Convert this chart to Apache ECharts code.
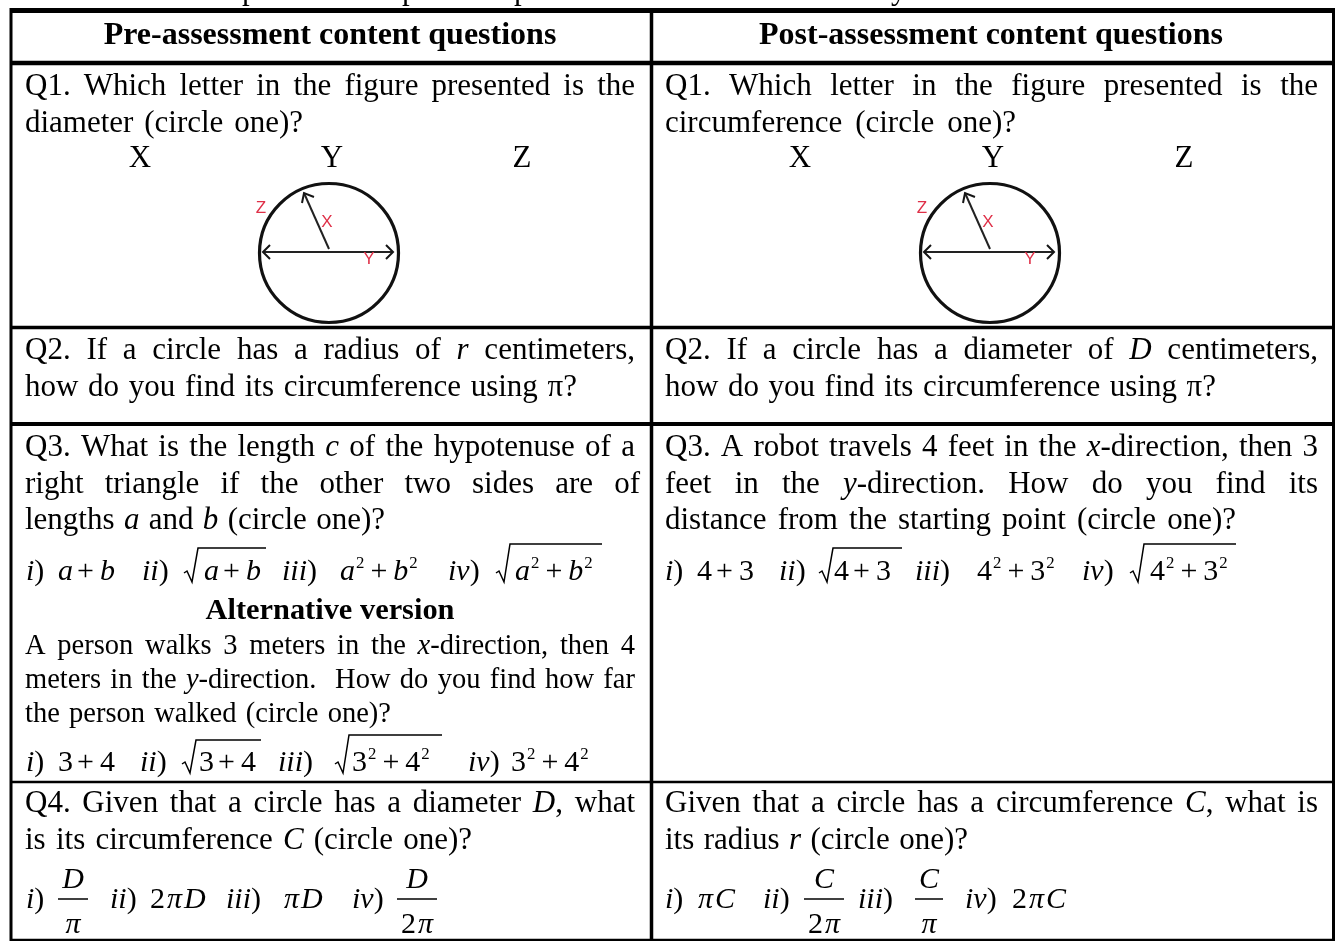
<!DOCTYPE html>
<html lang="en">
<head>
<meta charset="UTF-8">
<title>Pre- and post-assessment content questions</title>
<script src="https://cdn.jsdelivr.net/npm/echarts@6/dist/echarts.min.js"></script>
<style>
html, body { margin: 0; padding: 0; background: #fff; overflow: hidden; }
#main { width: 1335px; height: 941px; }
</style>
</head>
<body>
<div id="main"></div>
<script type="text/javascript">
// table text, *...* marks italic runs
var headers = ['Pre-assessment content questions', 'Post-assessment content questions'];
var choiceLetters = ['X', 'Y', 'Z'];
var figureLetters = ['Z', 'X', 'Y'];
var cutOffGlyphs = ['p', 'p', 'p', 'y'];

var preQ1 = ['Q1. Which letter in the figure presented is the', 'diameter (circle one)?'];
var preQ2 = ['Q2. If a circle has a radius of *r* centimeters,', 'how do you find its circumference using π?'];
var preQ3 = ['Q3. What is the length *c* of the hypotenuse of a', 'right triangle if the other two sides are of', 'lengths *a* and *b* (circle one)?'];
var altTitle = 'Alternative version';
var preAlt = ['A person walks 3 meters in the *x*-direction, then 4', 'meters in the *y*-direction.  How do you find how far', 'the person walked (circle one)?'];
var preQ4 = ['Q4. Given that a circle has a diameter *D*, what', 'is its circumference *C* (circle one)?'];

var postQ1 = ['Q1. Which letter in the figure presented is the', 'circumference (circle one)?'];
var postQ2 = ['Q2. If a circle has a diameter of *D* centimeters,', 'how do you find its circumference using π?'];
var postQ3 = ['Q3. A robot travels 4 feet in the *x*-direction, then 3', 'feet in the *y*-direction. How do you find its', 'distance from the starting point (circle one)?'];
var postQ4 = ['Given that a circle has a circumference *C*, what is', 'its radius *r* (circle one)?'];

var optionMarks = ['*i*)', '*ii*)', '*iii*)', '*iv*)'];
var preQ3Terms = ['a+b', 'a+b', 'a^2+b^2', 'a^2+b^2'];
var postQ3Terms = ['4+3', '4+3', '4^2+3^2', '4^2+3^2'];
var altTerms = ['3+4', '3+4', '3^2+4^2', '3^2+4^2'];
var preQ4Terms = [['D', 'π'], '2πD', 'πD', ['D', '2π']];
var postQ4Terms = ['πC', ['C', '2π'], ['C', 'π'], '2πC'];

var FONT = '"Liberation Serif", "Times New Roman", serif';
var BODY = 31, HEAD = 32, ALT = 28.5, MATH = 30;
var measure = document.createElement('canvas').getContext('2d');
var elements = [];

function fontOf(size, italic, bold) {
    return (italic ? 'italic ' : '') + (bold ? 'bold ' : '') + size + 'px ' + FONT;
}
function widthOf(text, font) {
    measure.font = font;
    return measure.measureText(text).width;
}
function putText(text, x, base, font, size, color) {
    elements.push({
        type: 'text', silent: true,
        style: {
            text: text, x: x, y: base - size * 0.24, font: font, fill: color || '#000',
            align: 'left', textAlign: 'left', verticalAlign: 'middle', textVerticalAlign: 'middle'
        }
    });
}
function rule(x1, y1, x2, y2, w) {
    elements.push({
        type: 'line', silent: true,
        shape: { x1: x1, y1: y1, x2: x2, y2: y2 },
        style: { stroke: '#000', lineWidth: w }
    });
}
function runsOf(word) {
    return word.split('*').map(function (t, i) { return { t: t, it: i % 2 === 1 }; })
        .filter(function (r) { return r.t.length > 0; });
}
// one line of text stretched between left and right through its word gaps
function textLine(str, left, right, base, size) {
    var words = str.split(' ');
    var total = 0;
    var sized = words.map(function (w) {
        var runs = runsOf(w);
        var wd = 0;
        runs.forEach(function (r) { r.w = widthOf(r.t, fontOf(size, r.it)); wd += r.w; });
        total += wd;
        return { runs: runs, w: wd };
    });
    var gap = (right - left - total) / (words.length - 1);
    var x = left;
    sized.forEach(function (w) {
        w.runs.forEach(function (r) {
            putText(r.t, x, base, fontOf(size, r.it), size);
            x += r.w;
        });
        x += gap;
    });
}
function para(lines, left, rights, bases, size) {
    lines.forEach(function (l, i) { textLine(l, left, rights[i], bases[i], size || BODY); });
}
function centered(text, cx, base, size, bold) {
    var f = fontOf(size, false, bold);
    putText(text, cx - widthOf(text, f) / 2, base, f, size);
}
function mark(str, x, base) {
    runsOf(str).forEach(function (r) {
        var f = fontOf(MATH, r.it);
        putText(r.t, x, base, f, MATH);
        x += widthOf(r.t, f);
    });
}
// simple math setter: letters and pi italic, ^ raises next char
function term(str, x, base, size) {
    size = size || MATH;
    for (var i = 0; i < str.length; i++) {
        var c = str[i];
        if (c === '^') {
            i++;
            var sf = fontOf(size * 0.56);
            putText(str[i], x + 1, base - size * 0.38, sf, size * 0.56);
            x += widthOf(str[i], sf) + 3;
        } else if (c === '+') {
            var pf = fontOf(size);
            x += 4;
            putText(c, x, base, pf, size);
            x += widthOf(c, pf) + 6;
        } else {
            var f = fontOf(size, /[a-zA-Zπ]/.test(c));
            putText(c, x, base, f, size);
            x += widthOf(c, f) + (/[2π]/.test(c) ? 2 : 0);
        }
    }
}
function sqrt(x, top, right, base, str, textX) {
    elements.push({
        type: 'polyline', silent: true,
        shape: { points: [[x, base - 6], [x + 3, base - 8], [x + 8, base + 3], [x + 14, top], [right, top]] },
        style: { stroke: '#000', lineWidth: 1.5, fill: 'none' }
    });
    term(str, textX, base);
}
function fraction(parts, x1, x2) {
    var cx = (x1 + x2) / 2;
    rule(x1, 899, x2, 899, 1.5);
    var f = fontOf(MATH, true);
    term(parts[0], cx - widthOf(parts[0], f) / 2, 887);
    var w = parts[1].length > 1 ? widthOf('2', fontOf(MATH)) + widthOf('π', f) + 2 : widthOf('π', f);
    term(parts[1], cx - w / 2, 932);
}
function figure(dx) {
    var kids = [
        { type: 'circle', shape: { cx: 329, cy: 253, r: 69.5 }, style: { stroke: '#111', fill: 'none', lineWidth: 3.2 } },
        { type: 'line', shape: { x1: 263, y1: 252, x2: 392, y2: 252 }, style: { stroke: '#222', lineWidth: 2.2 } },
        { type: 'polyline', shape: { points: [[270, 245], [263, 252], [270, 259]] }, style: { stroke: '#151515', fill: 'none', lineWidth: 2 } },
        { type: 'polyline', shape: { points: [[386, 245], [393, 252], [386, 259]] }, style: { stroke: '#151515', fill: 'none', lineWidth: 2 } },
        { type: 'line', shape: { x1: 329, y1: 249, x2: 304, y2: 193 }, style: { stroke: '#222', lineWidth: 2 } },
        { type: 'polyline', shape: { points: [[302, 203], [304, 193], [314, 197]] }, style: { stroke: '#151515', fill: 'none', lineWidth: 2 } }
    ];
    var spots = [[261, 208], [327, 222], [369, 259]];
    figureLetters.forEach(function (l, i) {
        kids.push({
            type: 'text',
            style: {
                text: l, x: spots[i][0], y: spots[i][1], font: '17px "Liberation Sans", sans-serif', fill: '#df3048',
                align: 'center', textAlign: 'center', verticalAlign: 'middle', textVerticalAlign: 'middle'
            }
        });
    });
    elements.push({ type: 'group', x: dx, y: 0, silent: true, children: kids });
}

// cut-off caption line above the table
[249, 409, 521, 898].forEach(function (x, i) {
    putText(cutOffGlyphs[i], x - 7, -2, fontOf(BODY), BODY);
});

// table rules
rule(10, 10.5, 1335, 10.5, 5);
rule(10, 63, 1335, 63, 4.5);
rule(10, 327.5, 1335, 327.5, 3.5);
rule(10, 424, 1335, 424, 4);
rule(10, 782, 1335, 782, 2.5);
rule(10, 940, 1335, 940, 2.5);
rule(11, 8, 11, 941, 3);
rule(651.5, 13, 651.5, 941, 3.5);
rule(1333.5, 8, 1333.5, 941, 3);

// headers
centered(headers[0], 330, 43, HEAD, true);
centered(headers[1], 991, 43, HEAD, true);

// left column
para(preQ1, 25, [635, 303], [94, 131]);
choiceLetters.forEach(function (l, i) { centered(l, [140, 332, 522][i], 166, BODY); });
figure(0);
para(preQ2, 25, [635, 577], [358, 395]);
para(preQ3, 25, [635, 640, 385], [455, 492, 528]);

[26, 142, 282, 448].forEach(function (x, i) { mark(optionMarks[i], x, 579); });
term(preQ3Terms[0], 58, 579);
sqrt(184, 548, 266, 579, preQ3Terms[1], 204);
term(preQ3Terms[2], 340, 579);
sqrt(496, 544, 602, 579, preQ3Terms[3], 515);

centered(altTitle, 330, 618, HEAD * 0.95, true);
para(preAlt, 25, [635, 635, 391], [653, 687, 721], ALT);

[26, 140, 278, 468].forEach(function (x, i) { mark(optionMarks[i], x, 770); });
term(altTerms[0], 58, 770);
sqrt(182, 740, 261, 770, altTerms[1], 199);
sqrt(335, 735, 442, 770, altTerms[2], 352);
term(altTerms[3], 511, 770);

para(preQ4, 25, [635, 472], [811, 848]);
[26, 110, 226, 352].forEach(function (x, i) { mark(optionMarks[i], x, 907); });
fraction(preQ4Terms[0], 58, 88);
term(preQ4Terms[1], 150, 907);
term(preQ4Terms[2], 284, 907);
fraction(preQ4Terms[3], 397, 437);

// right column
para(postQ1, 665, [1318, 1016], [94, 131]);
choiceLetters.forEach(function (l, i) { centered(l, [800, 993, 1184][i], 166, BODY); });
figure(661);
para(postQ2, 665, [1318, 1216], [358, 395]);
para(postQ3, 665, [1318, 1318, 1236], [455, 492, 528]);

[665, 779, 915, 1082].forEach(function (x, i) { mark(optionMarks[i], x, 579); });
term(postQ3Terms[0], 697, 579);
sqrt(819, 548, 902, 579, postQ3Terms[1], 834);
term(postQ3Terms[2], 977, 579);
sqrt(1130, 544, 1236, 579, postQ3Terms[3], 1150);

para(postQ4, 665, [1318, 968], [811, 848]);
[665, 763, 858, 965].forEach(function (x, i) { mark(optionMarks[i], x, 907); });
term(postQ4Terms[0], 698, 907);
fraction(postQ4Terms[1], 804, 844);
fraction(postQ4Terms[2], 915, 943);
term(postQ4Terms[3], 1012, 907);

var myChart = echarts.init(document.getElementById('main'));
myChart.setOption({
    backgroundColor: '#fff',
    animation: false,
    graphic: { elements: elements }
});
</script>
</body>
</html>
